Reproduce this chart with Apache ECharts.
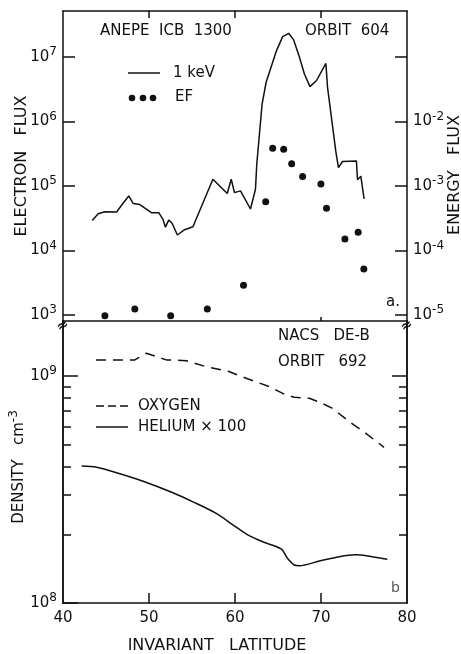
<!DOCTYPE html>
<html><head><meta charset="utf-8">
<script src="https://cdn.jsdelivr.net/npm/echarts@6/dist/echarts.min.js"></script>
<style>html,body{margin:0;padding:0;background:#fff}#c{width:461px;height:654px}</style>
</head><body><div id="c"></div>
<script>
const FONT = "'DejaVu Sans',sans-serif";
// ---- Panel a: ANEPE ICB 1300, orbit 604 ----
const keVLatitude = [43.40,44.09,44.87,46.23,46.96,47.65,48.15,48.93,50.28,51.13,51.63,51.91,52.29,52.67,53.30,54.14,55.11,57.43,59.10,59.56,59.94,60.64,61.80,62.38,62.53,63.15,63.62,64.78,65.54,66.24,66.82,67.48,68.06,68.72,69.48,70.57,70.76,71.73,72.03,72.50,74.12,74.24,74.63,75.01];
const keVFlux = [2.93e4,3.71e4,4.0e4,3.96e4,5.36e4,7.0e4,5.36e4,5.15e4,3.86e4,3.86e4,3.04e4,2.30e4,2.96e4,2.67e4,1.74e4,2.10e4,2.33e4,1.27e5,7.66e4,1.27e5,7.9e4,8.4e4,4.4e4,8.9e4,2.15e5,1.86e6,4.06e6,1.21e7,2.07e7,2.33e7,1.84e7,1.01e7,5.5e6,3.47e6,4.32e6,7.94e6,3.38e6,3.38e5,1.93e5,2.40e5,2.45e5,1.25e5,1.42e5,6.3e4];
const efLatitude = [44.87,48.35,52.52,56.78,60.99,63.57,64.38,65.66,66.59,67.86,69.99,70.64,72.78,74.32,74.98];
const efFlux = [9.7e-6,1.24e-5,9.7e-6,1.24e-5,2.88e-5,5.69e-4,3.85e-3,3.7e-3,2.22e-3,1.4e-3,1.07e-3,4.52e-4,1.51e-4,1.92e-4,5.15e-5];
// ---- Panel b: NACS DE-B, orbit 692 ----
const oxygenLatitude = [43.83,48.35,49.70,52.02,54.34,56.66,59.36,61.30,64.0,65.94,66.90,68.64,69.99,71.34,73.28,75.21,77.33];
const oxygenDensity = [1.177e9,1.177e9,1.259e9,1.177e9,1.167e9,1.098e9,1.044e9,9.77e8,8.97e8,8.24e8,8.05e8,7.97e8,7.62e8,7.2e8,6.29e8,5.59e8,4.85e8];
const heliumLatitude = [42.17,43.91,46.23,49.31,52.79,55.11,57.82,59.75,61.48,63.22,65.36,66.12,66.90,67.48,69.80,72.12,74.05,75.97,77.71];
const heliumDensity = [4.01e8,3.96e8,3.75e8,3.44e8,3.06e8,2.79e8,2.48e8,2.21e8,1.995e8,1.86e8,1.73e8,1.57e8,1.47e8,1.46e8,1.53e8,1.60e8,1.63e8,1.60e8,1.56e8];
// ---- ticks ----
const latitudeTicks = [40,50,60,70,80];
const latitudeInnerTicks = [50,60,70];
const fluxExponents = [3,4,5,6,7];
const energyTickExponents = [-5,-4,-3,-2,-1];
const energyLabelExponents = [-5,-4,-3,-2];
const densityExponents = [8,9];
const densityMinorValues = [2e8,3e8,4e8,5e8,6e8,7e8,8e8,9e8];
// log10 axis extents (frame edges)
const fluxRange = [2.907, 7.713];
const energyOffset = -8;
const densityRange = [8, 9.242];

const lg = Math.log10;
const pairs = (xs, ys) => xs.map((x, i) => [x, lg(ys[i])]);
const BLACK = '#111';
const supRich = { s: { fontSize: 12, fontFamily: FONT, color: BLACK, verticalAlign: 'top', lineHeight: 10 } };
const powLabel = v => '10{s|' + Math.round(v) + '}';
const labelStyle = { fontSize: 15, fontFamily: FONT, color: BLACK, lineHeight: 22, rich: supRich };
const lineAx = { show: true, lineStyle: { color: BLACK, width: 1.5 } };

const chart = echarts.init(document.getElementById('c'));
const grids = [
  { left: 63, right: 54, top: 11, height: 310, outerBoundsMode: 'none', containLabel: false },
  { left: 63, right: 54, top: 321, height: 282, outerBoundsMode: 'none', containLabel: false }
];
function yAx(grid, pos, ext, tickVals, tickLen, labelVals, extra) {
  return Object.assign({
    type: 'value', gridIndex: grid, position: pos, min: ext[0], max: ext[1],
    axisLine: lineAx, splitLine: { show: false }, nameMoveOverlap: false,
    axisTick: { show: tickVals.length > 0, inside: true, length: tickLen, customValues: tickVals, lineStyle: { color: BLACK, width: 1.5 } },
    axisLabel: labelVals ? Object.assign({ show: true, customValues: labelVals, formatter: powLabel, margin: 6 }, labelStyle) : { show: false }
  }, extra || {});
}
const option = {
  backgroundColor: '#fff',
  animation: false,
  grid: grids,
  xAxis: [
    { type: 'value', gridIndex: 0, position: 'bottom', min: 40, max: 80, interval: 10,
      axisLine: lineAx, splitLine: { show: false }, axisLabel: { show: false },
      axisTick: { show: true, inside: true, length: 4, customValues: [70], lineStyle: { color: BLACK, width: 1.5 } } },
    { type: 'value', gridIndex: 0, position: 'top', min: 40, max: 80, interval: 10,
      axisLine: lineAx, splitLine: { show: false }, axisLabel: { show: false },
      axisTick: { show: true, inside: true, length: 7, customValues: latitudeInnerTicks, lineStyle: { color: BLACK, width: 1.5 } } },
    { type: 'value', gridIndex: 1, position: 'bottom', min: 40, max: 80, interval: 10,
      axisLine: lineAx, splitLine: { show: false }, nameMoveOverlap: false,
      axisLabel: { show: true, customValues: latitudeTicks, fontSize: 15, fontFamily: FONT, color: BLACK, margin: 8 },
      axisTick: { show: true, inside: true, length: 10, customValues: latitudeInnerTicks, lineStyle: { color: BLACK, width: 1.5 } },
      name: 'INVARIANT   LATITUDE', nameLocation: 'middle', nameGap: 35,
      nameTextStyle: { fontSize: 16, fontFamily: FONT, color: BLACK, padding: [0, 36, 0, 0] } }
  ],
  yAxis: [
    yAx(0, 'left', fluxRange, fluxExponents, 12, fluxExponents, {
      name: 'ELECTRON   FLUX', nameLocation: 'middle', nameGap: 33, nameRotate: 90,
      nameTextStyle: { fontSize: 16, fontFamily: FONT, color: BLACK } }),
    yAx(0, 'right', [fluxRange[0] + energyOffset, fluxRange[1] + energyOffset], energyTickExponents, 12, energyLabelExponents, {
      name: 'ENERGY   FLUX', nameLocation: 'middle', nameGap: 40, nameRotate: 90,
      nameTextStyle: { fontSize: 16, fontFamily: FONT, color: BLACK, padding: [0, 18, 0, 0] } }),
    yAx(1, 'left', densityRange, densityExponents, 15, densityExponents, {
      name: 'DENSITY   cm{s|-3}', nameLocation: 'middle', nameGap: 33, nameRotate: 90,
      nameTextStyle: { fontSize: 15, fontFamily: FONT, color: BLACK, lineHeight: 22, rich: supRich, padding: [0, 10, 0, 0] } }),
    yAx(1, 'left', densityRange, densityMinorValues.map(lg), 8, null),
    yAx(1, 'right', densityRange, [9], 15, null),
    yAx(1, 'right', densityRange, densityMinorValues.map(lg), 8, null)
  ],
  series: [
    { name: '1 keV', type: 'line', xAxisIndex: 0, yAxisIndex: 0, data: pairs(keVLatitude, keVFlux),
      symbol: 'none', lineStyle: { color: BLACK, width: 1.5 } },
    { name: 'EF', type: 'scatter', xAxisIndex: 0, yAxisIndex: 1, data: pairs(efLatitude, efFlux),
      symbol: 'circle', symbolSize: 7, itemStyle: { color: BLACK, opacity: 1 } },
    { name: 'OXYGEN', type: 'line', xAxisIndex: 2, yAxisIndex: 2, data: pairs(oxygenLatitude, oxygenDensity),
      symbol: 'none', lineStyle: { color: BLACK, width: 1.5, type: [10, 7] } },
    { name: 'HELIUM x 100', type: 'line', xAxisIndex: 2, yAxisIndex: 2, data: pairs(heliumLatitude, heliumDensity),
      symbol: 'none', smooth: 0.3, lineStyle: { color: BLACK, width: 1.5 } }
  ],
  graphic: [
    { type: 'text', x: 100, y: 31, style: { text: 'ANEPE  ICB  1300', font: '15px ' + FONT, fill: BLACK, verticalAlign: 'middle' } },
    { type: 'text', x: 305, y: 31, style: { text: 'ORBIT  604', font: '15px ' + FONT, fill: BLACK, verticalAlign: 'middle' } },
    { type: 'line', shape: { x1: 128, y1: 73, x2: 160, y2: 73 }, style: { stroke: BLACK, lineWidth: 1.5 } },
    { type: 'text', x: 173, y: 73, style: { text: '1 keV', font: '15px ' + FONT, fill: BLACK, verticalAlign: 'middle' } },
    { type: 'circle', shape: { cx: 132, cy: 98, r: 3.3 }, style: { fill: BLACK } },
    { type: 'circle', shape: { cx: 143, cy: 98, r: 3.3 }, style: { fill: BLACK } },
    { type: 'circle', shape: { cx: 153, cy: 98, r: 3.3 }, style: { fill: BLACK } },
    { type: 'text', x: 175, y: 97, style: { text: 'EF', font: '15px ' + FONT, fill: BLACK, verticalAlign: 'middle' } },
    { type: 'text', x: 386, y: 302, style: { text: 'a.', font: '15px ' + FONT, fill: BLACK, verticalAlign: 'middle' } },
    { type: 'text', x: 278, y: 336, style: { text: 'NACS   DE-B', font: '15px ' + FONT, fill: BLACK, verticalAlign: 'middle' } },
    { type: 'text', x: 278, y: 362, style: { text: 'ORBIT   692', font: '15px ' + FONT, fill: BLACK, verticalAlign: 'middle' } },
    { type: 'line', shape: { x1: 96, y1: 406, x2: 128, y2: 406 }, style: { stroke: BLACK, lineWidth: 1.5, lineDash: [8, 4] } },
    { type: 'text', x: 138, y: 406, style: { text: 'OXYGEN', font: '15px ' + FONT, fill: BLACK, verticalAlign: 'middle' } },
    { type: 'line', shape: { x1: 96, y1: 427, x2: 128, y2: 427 }, style: { stroke: BLACK, lineWidth: 1.5 } },
    { type: 'text', x: 138, y: 427, style: { text: 'HELIUM × 100', font: '15px ' + FONT, fill: BLACK, verticalAlign: 'middle' } },
    { type: 'text', x: 391, y: 588, style: { text: 'b', font: '14px ' + FONT, fill: '#555', verticalAlign: 'middle' } },
    { type: 'text', x: 63, y: 326, rotation: 0.5, style: { text: '≈', font: 'bold 14px ' + FONT, fill: BLACK, align: 'center', verticalAlign: 'middle', backgroundColor: '#fff' } },
    { type: 'text', x: 407, y: 326, rotation: 0.5, style: { text: '≈', font: 'bold 14px ' + FONT, fill: BLACK, align: 'center', verticalAlign: 'middle', backgroundColor: '#fff' } }
  ]
};
chart.setOption(option);
</script></body></html>
